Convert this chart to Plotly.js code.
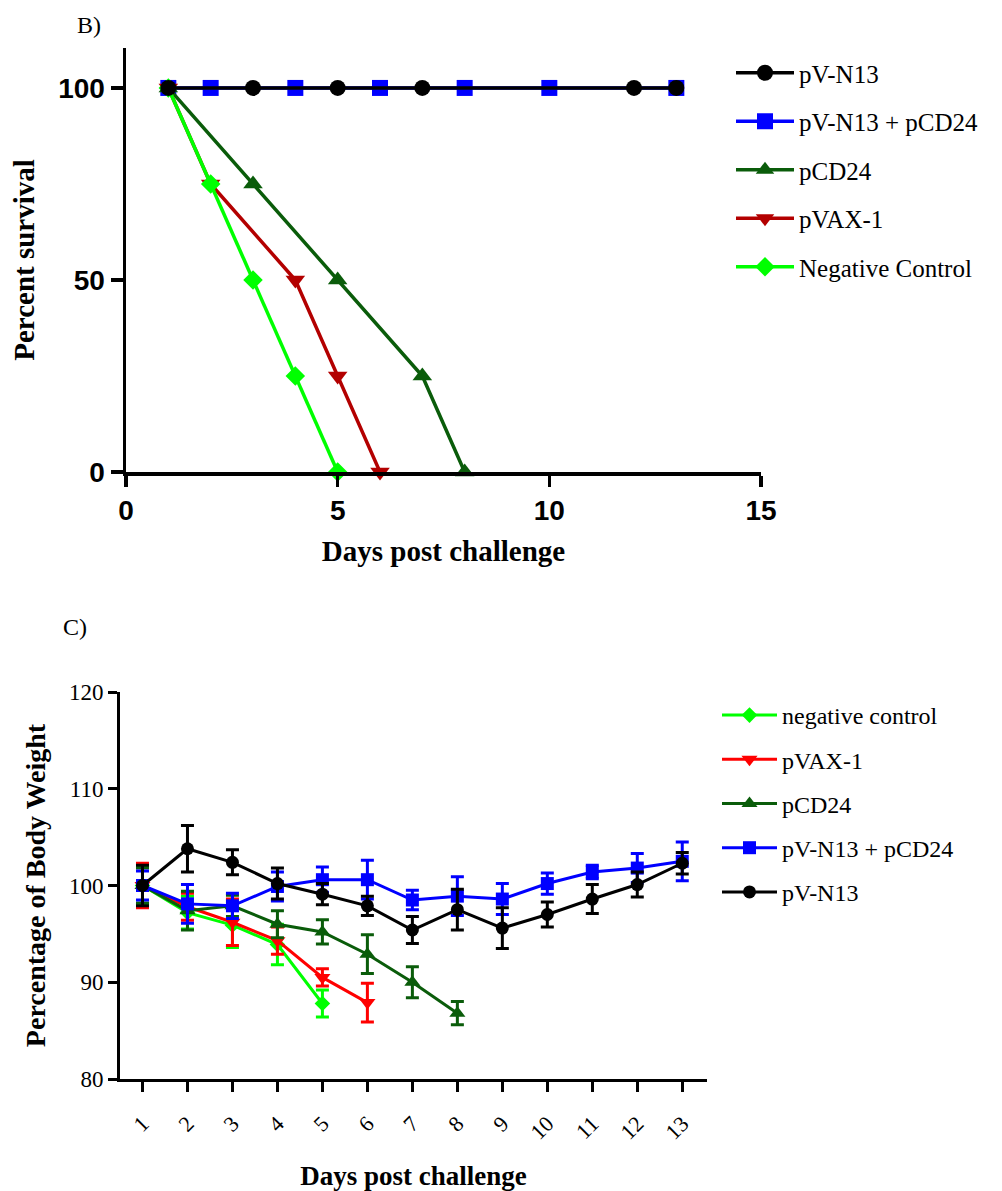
<!DOCTYPE html>
<html>
<head>
<meta charset="utf-8">
<script src="https://cdn.plot.ly/plotly-3.0.1.min.js"></script>
<style>
html,body{margin:0;padding:0;background:#fff;}
#chart{width:1002px;height:1191px;}
</style>
</head>
<body>
<div id="chart"></div>
<script>
// ---------- Panel B: survival ----------
const survNames = ["pV-N13", "pV-N13 + pCD24", "pCD24", "pVAX-1", "Negative Control"];
const survN13Days = [1, 3, 5, 7, 12, 13];
const survN13Vals = [100, 100, 100, 100, 100, 100];
const survComboDays = [1, 2, 4, 6, 8, 10, 13];
const survComboVals = [100, 100, 100, 100, 100, 100, 100];
const survCD24Days = [1, 3, 5, 7, 8];
const survCD24Vals = [100, 75, 50, 25, 0];
const survVAXDays = [1, 2, 4, 5, 6];
const survVAXVals = [100, 75, 50, 25, 0];
const survNegDays = [1, 2, 3, 4, 5];
const survNegVals = [100, 75, 50, 25, 0];
const survXTicks = [0, 5, 10, 15];
const survYTicks = [0, 50, 100];

// ---------- Panel C: body weight ----------
const wtNames = ["negative control", "pVAX-1", "pCD24", "pV-N13 + pCD24", "pV-N13"];
const wtDays = [1, 2, 3, 4, 5, 6, 7, 8, 9, 10, 11, 12, 13];
const wtNeg = [100, 97.2, 95.9, 93.9, 87.8];
const wtNegErr = [1.9, 1.7, 2.3, 2.1, 1.4];
const wtVAX = [100, 97.8, 96.2, 94.3, 90.5, 87.9];
const wtVAXErr = [2.3, 1.4, 2.4, 1.4, 0.9, 2.0];
const wtCD24 = [100, 97.4, 97.9, 96.0, 95.2, 92.9, 90.0, 86.8];
const wtCD24Err = [1.8, 2.0, 1.1, 1.4, 1.25, 2.0, 1.6, 1.2];
const wtCombo = [100, 98.1, 97.9, 99.9, 100.6, 100.6, 98.5, 98.9, 98.6, 100.2, 101.4, 101.8, 102.5];
const wtComboErr = [1.5, 2.0, 1.3, 1.5, 1.3, 2.0, 1.0, 2.0, 1.6, 1.1, 0.7, 1.5, 2.0];
const wtN13 = [100, 103.8, 102.4, 100.2, 99.1, 97.9, 95.4, 97.5, 95.6, 97.0, 98.6, 100.1, 102.3];
const wtN13Err = [2.1, 2.4, 1.3, 1.6, 1.1, 1.0, 1.4, 2.1, 2.1, 1.3, 1.5, 1.3, 1.1];
const wtYTicks = [80, 90, 100, 110, 120];

const BLACK = "#000000", BLUE = "#0000ff", DKGREEN = "#0a5c0a", DKRED = "#b30000", GREEN = "#00ff00", RED = "#ff0000";
const SERIF = "Liberation Serif, Times New Roman, serif";
const SANS = "Liberation Sans, Arial, sans-serif";

function survTrace(name, x, y, color, symbol, size, rank) {
  return {
    type: "scatter", mode: "lines+markers", name: name, x: x, y: y,
    xaxis: "x", yaxis: "y", legend: "legend", legendrank: rank, legendgroup: "s" + rank,
    line: {color: color, width: 3.5},
    marker: {color: color, symbol: symbol, size: size},
    cliponaxis: false
  };
}
function wtTrace(name, y, err, color, symbol, size, rank) {
  return {
    type: "scatter", mode: "lines+markers", name: name, x: wtDays.slice(0, y.length), y: y,
    xaxis: "x2", yaxis: "y2", legend: "legend2", legendrank: rank, legendgroup: "w" + rank,
    line: {color: color, width: 3},
    marker: {color: color, symbol: symbol, size: size},
    error_y: {type: "data", array: err, visible: true, color: color, thickness: 3, width: 6.5},
    cliponaxis: false
  };
}

const traces = [
  survTrace(survNames[1], survComboDays, survComboVals, BLUE, "square", 16, 2),
  survTrace(survNames[2], survCD24Days, survCD24Vals, DKGREEN, "triangle-up", 17, 3),
  survTrace(survNames[3], survVAXDays, survVAXVals, DKRED, "triangle-down", 17, 4),
  survTrace(survNames[4], survNegDays, survNegVals, GREEN, "diamond", 15, 5),
  survTrace(survNames[0], survN13Days, survN13Vals, BLACK, "circle", 16, 1),
  wtTrace(wtNames[0], wtNeg, wtNegErr, GREEN, "diamond", 12, 1),
  wtTrace(wtNames[1], wtVAX, wtVAXErr, RED, "triangle-down", 14, 2),
  wtTrace(wtNames[2], wtCD24, wtCD24Err, DKGREEN, "triangle-up", 14, 3),
  wtTrace(wtNames[3], wtCombo, wtComboErr, BLUE, "square", 13, 4),
  wtTrace(wtNames[4], wtN13, wtN13Err, BLACK, "circle", 13, 5)
];

const W = 1002, H = 1191;
const layout = {
  width: W, height: H,
  margin: {l: 0, r: 0, t: 0, b: 0},
  paper_bgcolor: "#fff", plot_bgcolor: "#fff",
  showlegend: true,
  xaxis: {
    domain: [126 / W, 761 / W], range: [0, 15], tickvals: survXTicks,
    showgrid: false, zeroline: false, showline: true, linecolor: BLACK, linewidth: 3.5,
    ticks: "outside", ticklen: 11, tickwidth: 3.5, tickcolor: BLACK,
    tickfont: {family: SANS, size: 28, color: BLACK, weight: "bold"},
    title: {text: "Days post challenge", font: {family: SERIF, size: 29, color: BLACK, weight: "bold"}, standoff: 16},
    anchor: "y", fixedrange: true
  },
  yaxis: {
    domain: [1 - 472 / H, 1 - 48 / H], range: [0, 110.4], tickvals: survYTicks,
    showgrid: false, zeroline: false, showline: true, linecolor: BLACK, linewidth: 3.5,
    ticks: "outside", ticklen: 12, tickwidth: 3.5, tickcolor: BLACK,
    tickfont: {family: SANS, size: 28, color: BLACK, weight: "bold"},
    title: {text: "Percent survival", font: {family: SERIF, size: 29, color: BLACK, weight: "bold"}, standoff: 16},
    anchor: "x", fixedrange: true
  },
  xaxis2: {
    domain: [120 / W, 707 / W], range: [0.5, 13.55], tickvals: wtDays,
    showgrid: false, zeroline: false, showline: true, linecolor: BLACK, linewidth: 3,
    ticks: "outside", ticklen: 10, tickwidth: 3, tickcolor: BLACK, tickangle: -45,
    ticklabelstandoff: 10,
    tickfont: {family: SERIF, size: 22, color: BLACK},
    title: {text: "Days post challenge", font: {family: SERIF, size: 27, color: BLACK, weight: "bold"}, standoff: 28},
    anchor: "y2", fixedrange: true
  },
  yaxis2: {
    domain: [1 - 1079 / H, 1 - 692 / H], range: [80, 120], tickvals: wtYTicks,
    showgrid: false, zeroline: false, showline: true, linecolor: BLACK, linewidth: 3,
    ticks: "outside", ticklen: 9, tickwidth: 3, tickcolor: BLACK,
    tickfont: {family: SERIF, size: 23, color: BLACK},
    title: {text: "Percentage of Body Weight", font: {family: SERIF, size: 28, color: BLACK, weight: "bold"}, standoff: 16},
    anchor: "x2", fixedrange: true
  },
  legend: {
    x: 731 / W, y: 1 - 50 / H, xanchor: "left", yanchor: "top",
    font: {family: SERIF, size: 25, color: BLACK},
    bgcolor: "rgba(0,0,0,0)", borderwidth: 0, tracegroupgap: 13, itemwidth: 58,
    traceorder: "grouped"
  },
  legend2: {
    x: 717 / W, y: 1 - 693 / H, xanchor: "left", yanchor: "top",
    font: {family: SERIF, size: 24, color: BLACK},
    bgcolor: "rgba(0,0,0,0)", borderwidth: 0, tracegroupgap: 10, itemwidth: 55,
    traceorder: "grouped"
  },
  annotations: [
    {text: "B)", x: 75 / W, y: 1 - 25 / H, xref: "paper", yref: "paper", xanchor: "left", yanchor: "middle", showarrow: false, font: {family: SERIF, size: 24, color: BLACK}},
    {text: "C)", x: 61 / W, y: 1 - 627 / H, xref: "paper", yref: "paper", xanchor: "left", yanchor: "middle", showarrow: false, font: {family: SERIF, size: 24, color: BLACK}}
  ]
};

Plotly.newPlot("chart", traces, layout, {staticPlot: true, displayModeBar: false});
</script>
</body>
</html>
